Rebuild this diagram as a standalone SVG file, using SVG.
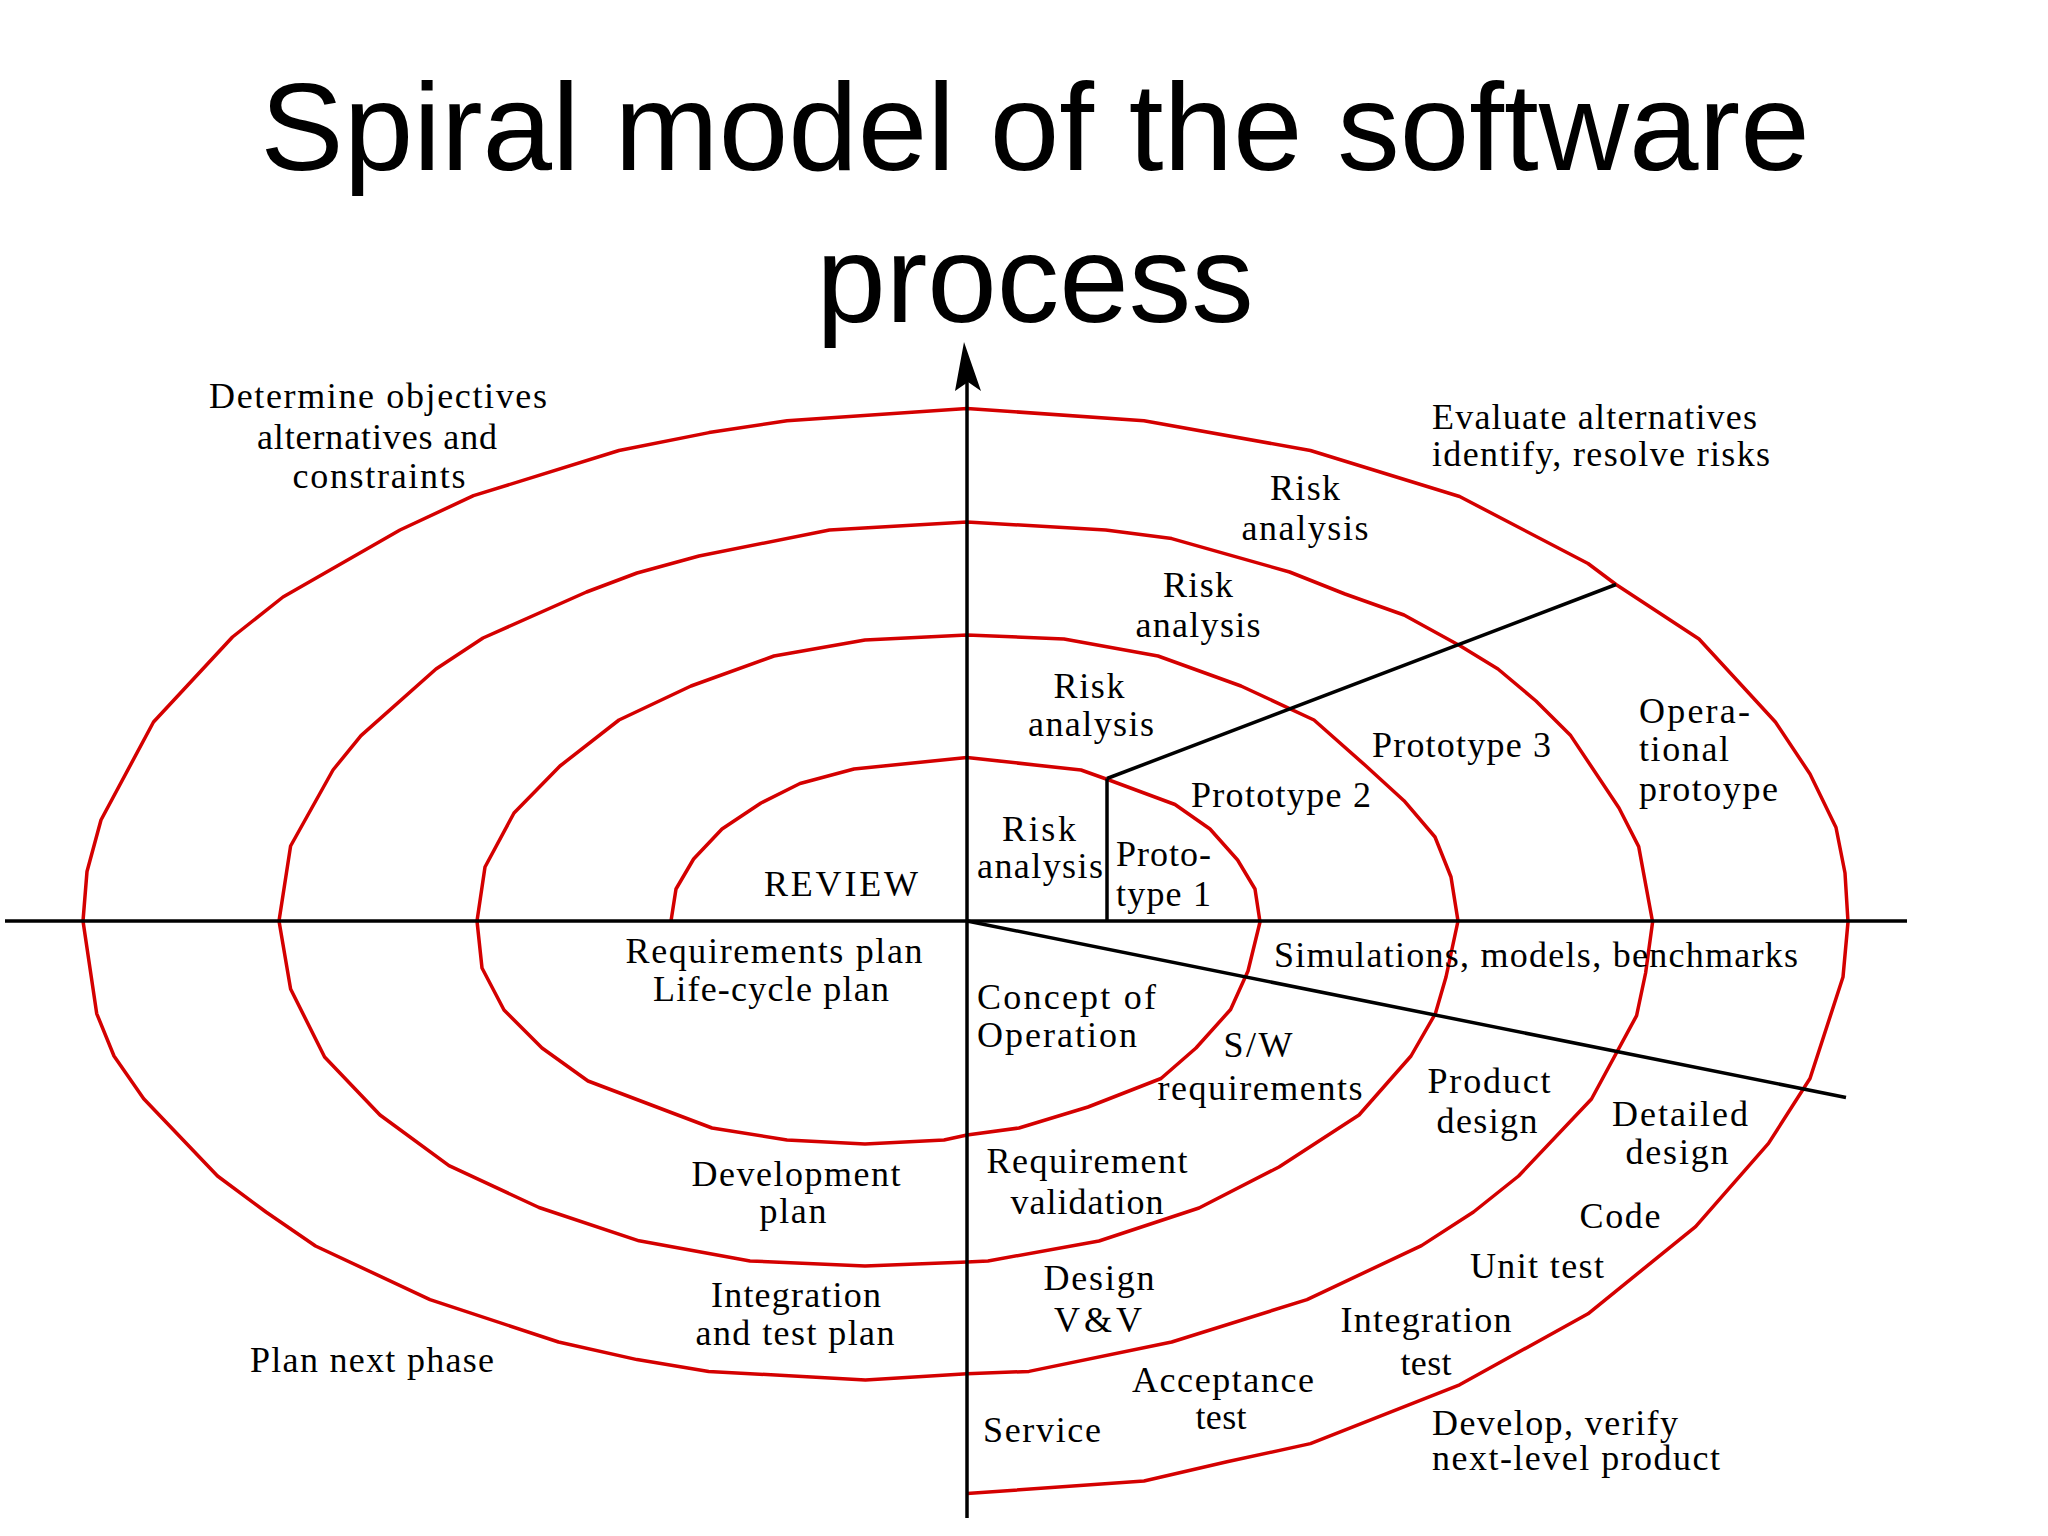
<svg xmlns="http://www.w3.org/2000/svg" width="2048" height="1536" viewBox="0 0 2048 1536">
<style>
.title{font-family:"Liberation Sans",Arial,sans-serif;font-size:125px;fill:#000;text-anchor:middle}
.t{font-family:"Liberation Serif","Times New Roman",serif;font-size:36px;fill:#000}
.c{text-anchor:middle}
.spiral{fill:none;stroke:#d40000;stroke-width:3.5;stroke-linejoin:round}
.ax{fill:none;stroke:#000;stroke-width:3.5}
</style>
<rect width="2048" height="1536" fill="#fff"/>
<g id="title">
<text class="title" x="1035" y="170">Spiral model of the software</text>
<text class="title" x="1035" y="322">process</text>
</g>
<g id="spiral">
<path class="spiral" d="M671,921 L676,889 L693.6,859 L722,829 L761,803 L800,783.5 L854,769 L967,757.5 L1081,770 L1109,780 L1175,804.5 L1210,829 L1237.6,860 L1255,889 L1260,922 L1248,971 L1230.6,1009.5 L1196,1048 L1161,1078.5 L1088,1107 L1019,1128 L967,1135 L944,1140 L865,1144 L787,1140 L712,1128 L588,1081 L542,1048 L504,1010 L482,968 L477,921 L485,867 L514,813 L560,766 L619,720 L691,686 L774,656 L865,640 L967,635 L1064,639 L1158,656 L1241,686 L1314,720 L1366,766 L1404,800.7 L1435,837 L1451,877 L1458,921 L1446,977 L1435.4,1013.6 L1411,1056 L1359,1115 L1279,1167 L1199,1208 L1099,1241 L988,1261 L967,1262 L865,1266 L750,1261 L639,1240.8 L539,1207.5 L449,1165.7 L380,1115 L324.6,1057 L290.6,989 L279,921 L290.6,846 L333,770 L361,735.6 L436,669 L483,638 L586.5,592 L637,573 L699,556 L829.5,530 L967,522 L1105.7,530 L1171.7,538.6 L1289.6,572 L1345,594 L1404,615 L1460,645.7 L1498,669 L1536,701 L1570.7,735.6 L1619,808 L1638.7,846.6 L1652.6,922 L1645.6,973 L1636.6,1015.6 L1591.5,1099 L1518.6,1176 L1473.5,1212 L1421.5,1245.6 L1307,1299.6 L1171.7,1342 L1029,1371.4 L967,1373.8 L865.4,1380 L708.7,1371.4 L637,1359.6 L558.5,1342 L430,1299.6 L315.5,1246 L266,1212 L217.5,1176 L143.7,1098.8 L114,1056 L96.7,1013.6 L83,921 L87,871.5 L101,820 L153.5,722 L232.5,637 L283,597 L400,530 L473.5,495.7 L619,450.5 L709,432.6 L787,420.7 L967,408.5 L1144,420.7 L1310.4,450.5 L1459.6,496.5 L1588,563.5 L1616,584.5 L1699,639 L1775.4,722 L1810,774 L1836,827.5 L1845,873 L1848,922 L1843,977 L1810,1078.5 L1768.5,1143.4 L1695.6,1226.6 L1588,1313.8 L1459.6,1384.8 L1310.4,1443.6 L1227,1461.8 L1144,1481 L967,1493.5"/>
</g>
<g id="connectors">
<line class="ax" x1="5" y1="921" x2="1907" y2="921"/>
<line class="ax" x1="967" y1="378" x2="967" y2="1518"/>
<polygon points="964,342 981,391 968,382 955,391" fill="#000"/>
<line class="ax" x1="1107" y1="778.5" x2="1107" y2="921"/>
<line class="ax" x1="1107" y1="778.5" x2="1616" y2="584.5"/>
<line class="ax" x1="967" y1="921" x2="1846" y2="1097.5"/>
</g>
<g id="labels">
<g id="q-objectives"><text class="t c" x="378" y="408" textLength="338" lengthAdjust="spacing">Determine objectives</text><text class="t c" x="377" y="449" textLength="240" lengthAdjust="spacing">alternatives and</text><text class="t c" x="379" y="488" textLength="173" lengthAdjust="spacing">constraints</text></g>
<g id="q-evaluate"><text class="t" x="1432" y="429" textLength="325" lengthAdjust="spacing">Evaluate alternatives</text><text class="t" x="1432" y="466" textLength="338" lengthAdjust="spacing">identify, resolve risks</text></g>
<g id="risk4"><text class="t c" x="1305" y="500" textLength="70" lengthAdjust="spacing">Risk</text><text class="t c" x="1305" y="540" textLength="127" lengthAdjust="spacing">analysis</text></g>
<g id="risk3"><text class="t c" x="1198" y="597" textLength="70" lengthAdjust="spacing">Risk</text><text class="t c" x="1198" y="637" textLength="125" lengthAdjust="spacing">analysis</text></g>
<g id="risk2"><text class="t c" x="1089" y="698" textLength="71" lengthAdjust="spacing">Risk</text><text class="t c" x="1091" y="736" textLength="126" lengthAdjust="spacing">analysis</text></g>
<g id="risk1"><text class="t c" x="1039" y="841" textLength="74" lengthAdjust="spacing">Risk</text><text class="t c" x="1040" y="878" textLength="126" lengthAdjust="spacing">analysis</text></g>
<g id="proto1"><text class="t" x="1116" y="866" textLength="95" lengthAdjust="spacing">Proto-</text><text class="t" x="1116" y="906" textLength="95" lengthAdjust="spacing">type 1</text></g>
<g id="proto2"><text class="t" x="1191" y="807" textLength="180" lengthAdjust="spacing">Prototype 2</text></g>
<g id="proto3"><text class="t" x="1372" y="757" textLength="179" lengthAdjust="spacing">Prototype 3</text></g>
<g id="opproto"><text class="t" x="1639" y="723" textLength="111" lengthAdjust="spacing">Opera-</text><text class="t" x="1639" y="761" textLength="90" lengthAdjust="spacing">tional</text><text class="t" x="1639" y="801" textLength="139" lengthAdjust="spacing">protoype</text></g>
<g id="review"><text class="t" x="764" y="896" textLength="154" lengthAdjust="spacing">REVIEW</text></g>
<g id="reqplan"><text class="t c" x="774" y="963" textLength="297" lengthAdjust="spacing">Requirements plan</text><text class="t c" x="771" y="1001" textLength="236" lengthAdjust="spacing">Life-cycle plan</text></g>
<g id="devplan"><text class="t c" x="796" y="1186" textLength="209" lengthAdjust="spacing">Development</text><text class="t c" x="793" y="1223" textLength="67" lengthAdjust="spacing">plan</text></g>
<g id="intplan"><text class="t c" x="796" y="1307" textLength="170" lengthAdjust="spacing">Integration</text><text class="t c" x="795" y="1345" textLength="199" lengthAdjust="spacing">and test plan</text></g>
<g id="plannext"><text class="t c" x="372" y="1372" textLength="244" lengthAdjust="spacing">Plan next phase</text></g>
<g id="simulations"><text class="t" x="1274" y="967" textLength="524" lengthAdjust="spacing">Simulations, models, benchmarks</text></g>
<g id="concept"><text class="t" x="977" y="1009" textLength="179" lengthAdjust="spacing">Concept of</text><text class="t" x="977" y="1047" textLength="160" lengthAdjust="spacing">Operation</text></g>
<g id="swreq"><text class="t c" x="1258" y="1057" textLength="69" lengthAdjust="spacing">S/W</text><text class="t c" x="1260" y="1100" textLength="205" lengthAdjust="spacing">requirements</text></g>
<g id="proddesign"><text class="t c" x="1489" y="1093" textLength="123" lengthAdjust="spacing">Product</text><text class="t c" x="1487" y="1133" textLength="101" lengthAdjust="spacing">design</text></g>
<g id="detdesign"><text class="t c" x="1680" y="1126" textLength="136" lengthAdjust="spacing">Detailed</text><text class="t c" x="1677" y="1164" textLength="103" lengthAdjust="spacing">design</text></g>
<g id="reqval"><text class="t c" x="1087" y="1173" textLength="201" lengthAdjust="spacing">Requirement</text><text class="t c" x="1087" y="1214" textLength="153" lengthAdjust="spacing">validation</text></g>
<g id="code"><text class="t c" x="1620" y="1228" textLength="81" lengthAdjust="spacing">Code</text></g>
<g id="unittest"><text class="t c" x="1537" y="1278" textLength="134" lengthAdjust="spacing">Unit test</text></g>
<g id="designvv"><text class="t c" x="1099" y="1290" textLength="111" lengthAdjust="spacing">Design</text><text class="t c" x="1098" y="1332" textLength="88" lengthAdjust="spacing">V&amp;V</text></g>
<g id="inttest"><text class="t c" x="1426" y="1332" textLength="171" lengthAdjust="spacing">Integration</text><text class="t c" x="1426" y="1375" textLength="51" lengthAdjust="spacing">test</text></g>
<g id="acctest"><text class="t c" x="1223" y="1392" textLength="182" lengthAdjust="spacing">Acceptance</text><text class="t c" x="1221" y="1429" textLength="51" lengthAdjust="spacing">test</text></g>
<g id="service"><text class="t" x="983" y="1442" textLength="118" lengthAdjust="spacing">Service</text></g>
<g id="develop"><text class="t" x="1432" y="1435" textLength="246" lengthAdjust="spacing">Develop, verify</text><text class="t" x="1432" y="1470" textLength="288" lengthAdjust="spacing">next-level product</text></g>
</g>
</svg>
